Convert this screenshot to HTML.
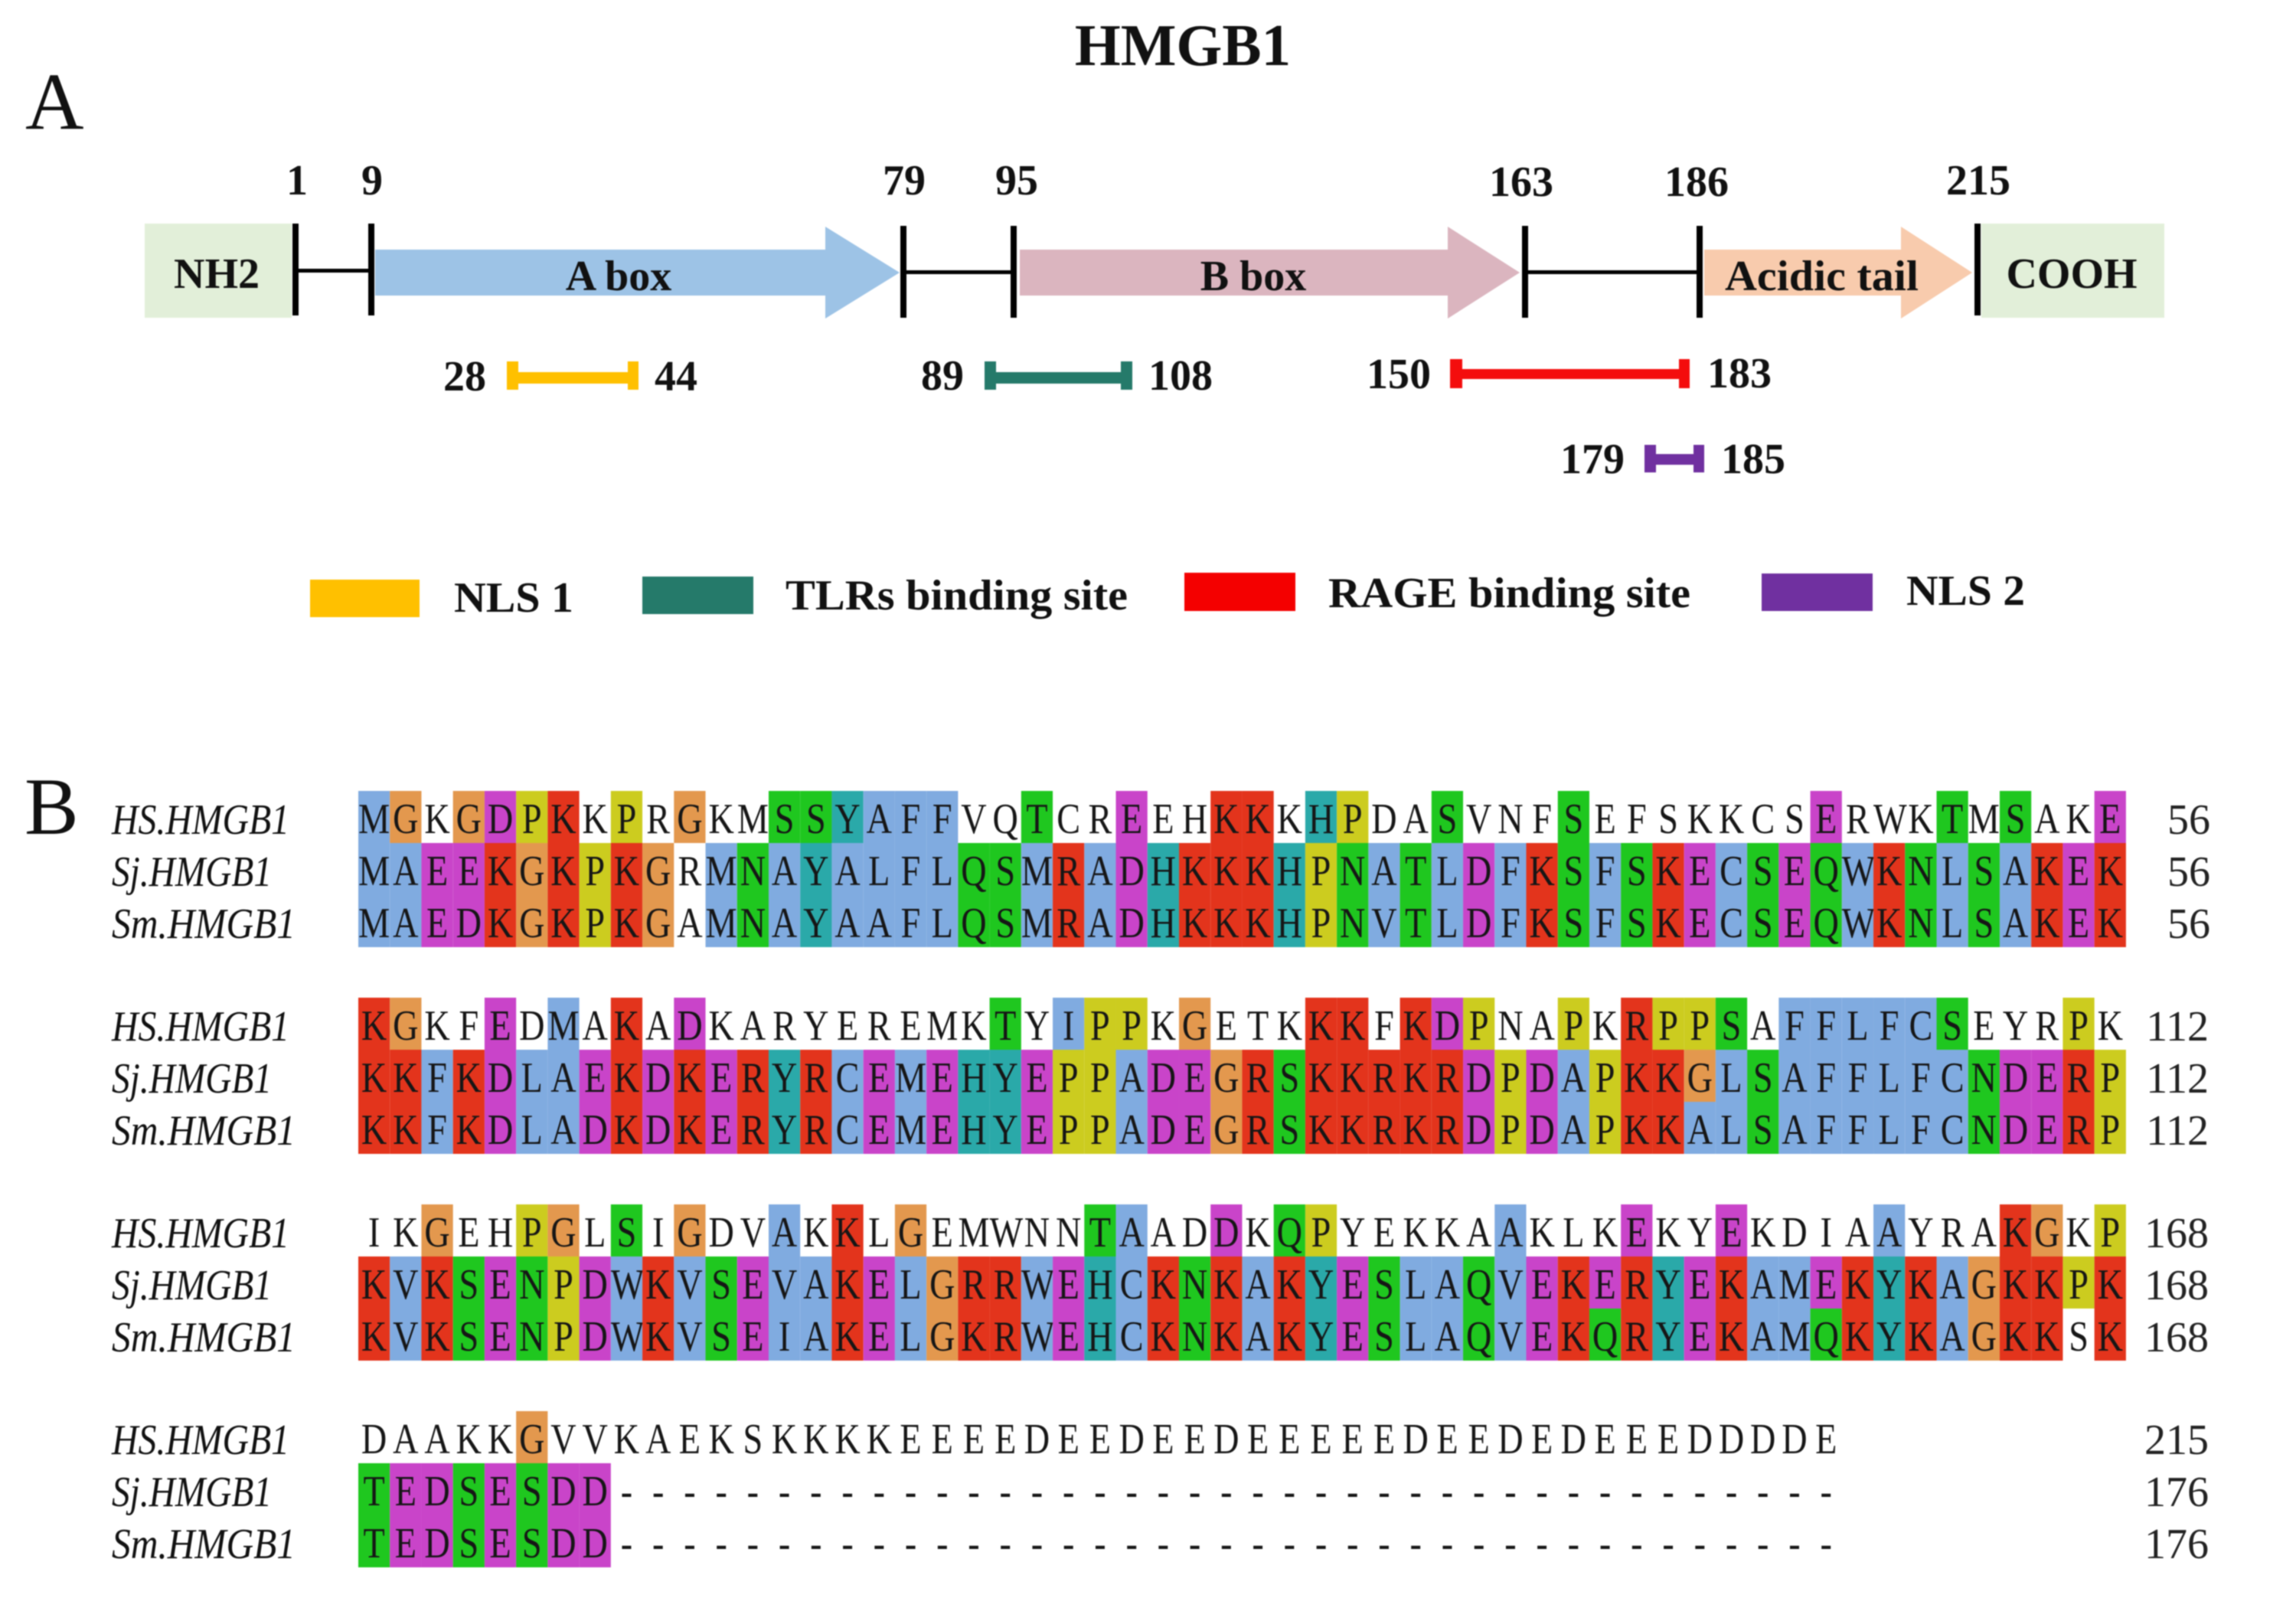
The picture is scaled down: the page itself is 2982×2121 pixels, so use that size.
<!DOCTYPE html>
<html><head><meta charset="utf-8"><title>HMGB1</title>
<style>
html,body{margin:0;padding:0;background:#fff}
#p{position:relative;width:2982px;height:2121px;overflow:hidden;background:#fff;filter:blur(.7px)}
svg{position:absolute;left:0;top:0}
svg text{font-family:"Liberation Serif",serif;fill:#111}
.n{font-size:56px;font-weight:bold}
.l{font-size:56px;font-style:italic}
.c{font-size:56px;fill:#222}
.row{position:absolute;left:468px;display:flex;transform:scaleX(.8246);transform-origin:0 0;font:56px/74px "Liberation Serif",serif;color:#161616}
.row i{display:block;flex:none;width:50px;height:68px;text-align:center;font-style:normal}
.row i.b{background:#80abe0}
.row i.r{background:#e3341c}
.row i.m{background:#c944c9}
.row i.g{background:#1fc71f}
.row i.o{background:#e3984e}
.row i.y{background:#cccc1f}
.row i.t{background:#2aa9a9}
</style></head><body><div id="p">

<div class="row" style="top:1033px"><i class=b>M</i><i class=o>G</i><i>K</i><i class=o>G</i><i class=m>D</i><i class=y>P</i><i class=r>K</i><i>K</i><i class=y>P</i><i>R</i><i class=o>G</i><i>K</i><i>M</i><i class=g>S</i><i class=g>S</i><i class=t>Y</i><i class=b>A</i><i class=b>F</i><i class=b>F</i><i>V</i><i>Q</i><i class=g>T</i><i>C</i><i>R</i><i class=m>E</i><i>E</i><i>H</i><i class=r>K</i><i class=r>K</i><i>K</i><i class=t>H</i><i class=y>P</i><i>D</i><i>A</i><i class=g>S</i><i>V</i><i>N</i><i>F</i><i class=g>S</i><i>E</i><i>F</i><i>S</i><i>K</i><i>K</i><i>C</i><i>S</i><i class=m>E</i><i>R</i><i>W</i><i>K</i><i class=g>T</i><i>M</i><i class=g>S</i><i>A</i><i>K</i><i class=m>E</i></div>
<div class="row" style="top:1101px"><i class=b>M</i><i class=b>A</i><i class=m>E</i><i class=m>E</i><i class=r>K</i><i class=o>G</i><i class=r>K</i><i class=y>P</i><i class=r>K</i><i class=o>G</i><i>R</i><i class=b>M</i><i class=g>N</i><i class=b>A</i><i class=t>Y</i><i class=b>A</i><i class=b>L</i><i class=b>F</i><i class=b>L</i><i class=g>Q</i><i class=g>S</i><i class=b>M</i><i class=r>R</i><i class=b>A</i><i class=m>D</i><i class=t>H</i><i class=r>K</i><i class=r>K</i><i class=r>K</i><i class=t>H</i><i class=y>P</i><i class=g>N</i><i class=b>A</i><i class=g>T</i><i class=b>L</i><i class=m>D</i><i class=b>F</i><i class=r>K</i><i class=g>S</i><i class=b>F</i><i class=g>S</i><i class=r>K</i><i class=m>E</i><i class=b>C</i><i class=g>S</i><i class=m>E</i><i class=g>Q</i><i class=b>W</i><i class=r>K</i><i class=g>N</i><i class=b>L</i><i class=g>S</i><i class=b>A</i><i class=r>K</i><i class=m>E</i><i class=r>K</i></div>
<div class="row" style="top:1169px"><i class=b>M</i><i class=b>A</i><i class=m>E</i><i class=m>D</i><i class=r>K</i><i class=o>G</i><i class=r>K</i><i class=y>P</i><i class=r>K</i><i class=o>G</i><i>A</i><i class=b>M</i><i class=g>N</i><i class=b>A</i><i class=t>Y</i><i class=b>A</i><i class=b>A</i><i class=b>F</i><i class=b>L</i><i class=g>Q</i><i class=g>S</i><i class=b>M</i><i class=r>R</i><i class=b>A</i><i class=m>D</i><i class=t>H</i><i class=r>K</i><i class=r>K</i><i class=r>K</i><i class=t>H</i><i class=y>P</i><i class=g>N</i><i class=b>V</i><i class=g>T</i><i class=b>L</i><i class=m>D</i><i class=b>F</i><i class=r>K</i><i class=g>S</i><i class=b>F</i><i class=g>S</i><i class=r>K</i><i class=m>E</i><i class=b>C</i><i class=g>S</i><i class=m>E</i><i class=g>Q</i><i class=b>W</i><i class=r>K</i><i class=g>N</i><i class=b>L</i><i class=g>S</i><i class=b>A</i><i class=r>K</i><i class=m>E</i><i class=r>K</i></div>

<div class="row" style="top:1303px"><i class=r>K</i><i class=o>G</i><i>K</i><i>F</i><i class=m>E</i><i>D</i><i class=b>M</i><i>A</i><i class=r>K</i><i>A</i><i class=m>D</i><i>K</i><i>A</i><i>R</i><i>Y</i><i>E</i><i>R</i><i>E</i><i>M</i><i>K</i><i class=g>T</i><i>Y</i><i class=b>I</i><i class=y>P</i><i class=y>P</i><i>K</i><i class=o>G</i><i>E</i><i>T</i><i>K</i><i class=r>K</i><i class=r>K</i><i>F</i><i class=r>K</i><i class=m>D</i><i class=y>P</i><i>N</i><i>A</i><i class=y>P</i><i>K</i><i class=r>R</i><i class=y>P</i><i class=y>P</i><i class=g>S</i><i>A</i><i class=b>F</i><i class=b>F</i><i class=b>L</i><i class=b>F</i><i class=b>C</i><i class=g>S</i><i>E</i><i>Y</i><i>R</i><i class=y>P</i><i>K</i></div>
<div class="row" style="top:1371px"><i class=r>K</i><i class=r>K</i><i class=b>F</i><i class=r>K</i><i class=m>D</i><i class=b>L</i><i class=b>A</i><i class=m>E</i><i class=r>K</i><i class=m>D</i><i class=r>K</i><i class=m>E</i><i class=r>R</i><i class=t>Y</i><i class=r>R</i><i class=b>C</i><i class=m>E</i><i class=b>M</i><i class=m>E</i><i class=t>H</i><i class=t>Y</i><i class=m>E</i><i class=y>P</i><i class=y>P</i><i class=b>A</i><i class=m>D</i><i class=m>E</i><i class=o>G</i><i class=r>R</i><i class=g>S</i><i class=r>K</i><i class=r>K</i><i class=r>R</i><i class=r>K</i><i class=r>R</i><i class=m>D</i><i class=y>P</i><i class=m>D</i><i class=b>A</i><i class=y>P</i><i class=r>K</i><i class=r>K</i><i class=o>G</i><i class=b>L</i><i class=g>S</i><i class=b>A</i><i class=b>F</i><i class=b>F</i><i class=b>L</i><i class=b>F</i><i class=b>C</i><i class=g>N</i><i class=m>D</i><i class=m>E</i><i class=r>R</i><i class=y>P</i></div>
<div class="row" style="top:1439px"><i class=r>K</i><i class=r>K</i><i class=b>F</i><i class=r>K</i><i class=m>D</i><i class=b>L</i><i class=b>A</i><i class=m>D</i><i class=r>K</i><i class=m>D</i><i class=r>K</i><i class=m>E</i><i class=r>R</i><i class=t>Y</i><i class=r>R</i><i class=b>C</i><i class=m>E</i><i class=b>M</i><i class=m>E</i><i class=t>H</i><i class=t>Y</i><i class=m>E</i><i class=y>P</i><i class=y>P</i><i class=b>A</i><i class=m>D</i><i class=m>E</i><i class=o>G</i><i class=r>R</i><i class=g>S</i><i class=r>K</i><i class=r>K</i><i class=r>R</i><i class=r>K</i><i class=r>R</i><i class=m>D</i><i class=y>P</i><i class=m>D</i><i class=b>A</i><i class=y>P</i><i class=r>K</i><i class=r>K</i><i class=b>A</i><i class=b>L</i><i class=g>S</i><i class=b>A</i><i class=b>F</i><i class=b>F</i><i class=b>L</i><i class=b>F</i><i class=b>C</i><i class=g>N</i><i class=m>D</i><i class=m>E</i><i class=r>R</i><i class=y>P</i></div>

<div class="row" style="top:1573px"><i>I</i><i>K</i><i class=o>G</i><i>E</i><i>H</i><i class=y>P</i><i class=o>G</i><i>L</i><i class=g>S</i><i>I</i><i class=o>G</i><i>D</i><i>V</i><i class=b>A</i><i>K</i><i class=r>K</i><i>L</i><i class=o>G</i><i>E</i><i>M</i><i>W</i><i>N</i><i>N</i><i class=g>T</i><i class=b>A</i><i>A</i><i>D</i><i class=m>D</i><i>K</i><i class=g>Q</i><i class=y>P</i><i>Y</i><i>E</i><i>K</i><i>K</i><i>A</i><i class=b>A</i><i>K</i><i>L</i><i>K</i><i class=m>E</i><i>K</i><i>Y</i><i class=m>E</i><i>K</i><i>D</i><i>I</i><i>A</i><i class=b>A</i><i>Y</i><i>R</i><i>A</i><i class=r>K</i><i class=o>G</i><i>K</i><i class=y>P</i></div>
<div class="row" style="top:1641px"><i class=r>K</i><i class=b>V</i><i class=r>K</i><i class=g>S</i><i class=m>E</i><i class=g>N</i><i class=y>P</i><i class=m>D</i><i class=b>W</i><i class=r>K</i><i class=b>V</i><i class=g>S</i><i class=m>E</i><i class=b>V</i><i class=b>A</i><i class=r>K</i><i class=m>E</i><i class=b>L</i><i class=o>G</i><i class=r>R</i><i class=r>R</i><i class=b>W</i><i class=m>E</i><i class=t>H</i><i class=b>C</i><i class=r>K</i><i class=g>N</i><i class=r>K</i><i class=b>A</i><i class=r>K</i><i class=t>Y</i><i class=m>E</i><i class=g>S</i><i class=b>L</i><i class=b>A</i><i class=g>Q</i><i class=b>V</i><i class=m>E</i><i class=r>K</i><i class=m>E</i><i class=r>R</i><i class=t>Y</i><i class=m>E</i><i class=r>K</i><i class=b>A</i><i class=b>M</i><i class=m>E</i><i class=r>K</i><i class=t>Y</i><i class=r>K</i><i class=b>A</i><i class=o>G</i><i class=r>K</i><i class=r>K</i><i class=y>P</i><i class=r>K</i></div>
<div class="row" style="top:1709px"><i class=r>K</i><i class=b>V</i><i class=r>K</i><i class=g>S</i><i class=m>E</i><i class=g>N</i><i class=y>P</i><i class=m>D</i><i class=b>W</i><i class=r>K</i><i class=b>V</i><i class=g>S</i><i class=m>E</i><i class=b>I</i><i class=b>A</i><i class=r>K</i><i class=m>E</i><i class=b>L</i><i class=o>G</i><i class=r>K</i><i class=r>R</i><i class=b>W</i><i class=m>E</i><i class=t>H</i><i class=b>C</i><i class=r>K</i><i class=g>N</i><i class=r>K</i><i class=b>A</i><i class=r>K</i><i class=t>Y</i><i class=m>E</i><i class=g>S</i><i class=b>L</i><i class=b>A</i><i class=g>Q</i><i class=b>V</i><i class=m>E</i><i class=r>K</i><i class=g>Q</i><i class=r>R</i><i class=t>Y</i><i class=m>E</i><i class=r>K</i><i class=b>A</i><i class=b>M</i><i class=g>Q</i><i class=r>K</i><i class=t>Y</i><i class=r>K</i><i class=b>A</i><i class=o>G</i><i class=r>K</i><i class=r>K</i><i>S</i><i class=r>K</i></div>

<div class="row" style="top:1843px"><i>D</i><i>A</i><i>A</i><i>K</i><i>K</i><i class=o>G</i><i>V</i><i>V</i><i>K</i><i>A</i><i>E</i><i>K</i><i>S</i><i>K</i><i>K</i><i>K</i><i>K</i><i>E</i><i>E</i><i>E</i><i>E</i><i>D</i><i>E</i><i>E</i><i>D</i><i>E</i><i>E</i><i>D</i><i>E</i><i>E</i><i>E</i><i>E</i><i>E</i><i>D</i><i>E</i><i>E</i><i>D</i><i>E</i><i>D</i><i>E</i><i>E</i><i>E</i><i>D</i><i>D</i><i>D</i><i>D</i><i>E</i></div>
<div class="row" style="top:1911px"><i class=g>T</i><i class=m>E</i><i class=m>D</i><i class=g>S</i><i class=m>E</i><i class=g>S</i><i class=m>D</i><i class=m>D</i><i>-</i><i>-</i><i>-</i><i>-</i><i>-</i><i>-</i><i>-</i><i>-</i><i>-</i><i>-</i><i>-</i><i>-</i><i>-</i><i>-</i><i>-</i><i>-</i><i>-</i><i>-</i><i>-</i><i>-</i><i>-</i><i>-</i><i>-</i><i>-</i><i>-</i><i>-</i><i>-</i><i>-</i><i>-</i><i>-</i><i>-</i><i>-</i><i>-</i><i>-</i><i>-</i><i>-</i><i>-</i><i>-</i><i>-</i></div>
<div class="row" style="top:1979px"><i class=g>T</i><i class=m>E</i><i class=m>D</i><i class=g>S</i><i class=m>E</i><i class=g>S</i><i class=m>D</i><i class=m>D</i><i>-</i><i>-</i><i>-</i><i>-</i><i>-</i><i>-</i><i>-</i><i>-</i><i>-</i><i>-</i><i>-</i><i>-</i><i>-</i><i>-</i><i>-</i><i>-</i><i>-</i><i>-</i><i>-</i><i>-</i><i>-</i><i>-</i><i>-</i><i>-</i><i>-</i><i>-</i><i>-</i><i>-</i><i>-</i><i>-</i><i>-</i><i>-</i><i>-</i><i>-</i><i>-</i><i>-</i><i>-</i><i>-</i><i>-</i></div>

<svg width="2982" height="2121" viewBox="0 0 2982 2121">
<text x="33" y="168" font-size="106">A</text>
<text x="32" y="1089" font-size="106">B</text>

<g transform="translate(0,-2)">
<!-- title -->
<text x="1545" y="87" text-anchor="middle" font-size="77" font-weight="bold">HMGB1</text>

<!-- terminal boxes -->
<rect x="189" y="294" width="192" height="123" fill="#e2efd9"/>
<rect x="2588" y="294" width="239" height="123" fill="#e2efd9"/>

<!-- arrows -->
<polygon points="490,328 1078,328 1078,298 1175,358 1078,418 1078,388 490,388" fill="#9dc3e6"/>
<polygon points="1332,328 1891,328 1891,298 1985,358 1891,418 1891,388 1332,388" fill="#dbb5bf"/>
<polygon points="2226,328 2483,328 2483,298 2576,358 2483,418 2483,388 2226,388" fill="#f8cbad"/>

<!-- connectors and ticks -->
<g fill="#000">
<rect x="386" y="353" width="99" height="5"/>
<rect x="1180" y="355" width="144" height="5"/>
<rect x="1992" y="355" width="228" height="5"/>
<rect x="382" y="294" width="8" height="120"/>
<rect x="481" y="294" width="8" height="120"/>
<rect x="1176" y="297" width="8" height="120"/>
<rect x="1320" y="297" width="8" height="120"/>
<rect x="1988" y="297" width="8" height="120"/>
<rect x="2216" y="297" width="8" height="120"/>
<rect x="2579" y="294" width="8" height="120"/>
</g>

<!-- position labels -->
<g text-anchor="middle">
<text class="n" x="388" y="256">1</text>
<text class="n" x="486" y="256">9</text>
<text class="n" x="1181" y="256">79</text>
<text class="n" x="1328" y="256">95</text>
<text class="n" x="1987" y="258">163</text>
<text class="n" x="2216" y="258">186</text>
<text class="n" x="2584" y="256">215</text>
<text class="n" x="283" y="378">NH2</text>
<text class="n" x="808" y="381">A box</text>
<text class="n" x="1637" y="381">B box</text>
<text class="n" x="2706" y="378">COOH</text>
</g>
<text class="n" x="2253" y="381" textLength="253" lengthAdjust="spacingAndGlyphs">Acidic tail</text>

<!-- range bars -->
<g fill="#ffc000"><rect x="662" y="474" width="15" height="37"/><rect x="820" y="474" width="14" height="37"/><rect x="670" y="488" width="156" height="15"/></g>
<g fill="#257a6a"><rect x="1286" y="474" width="15" height="37"/><rect x="1464" y="474" width="15" height="37"/><rect x="1294" y="488" width="176" height="15"/></g>
<g fill="#f40d0d"><rect x="1894" y="471" width="16" height="38"/><rect x="2193" y="471" width="14" height="38"/><rect x="1902" y="484" width="298" height="13"/></g>
<g fill="#7030a0"><rect x="2148" y="583" width="15" height="36"/><rect x="2212" y="583" width="14" height="36"/><rect x="2155" y="595" width="64" height="14"/></g>

<text class="n" x="579" y="512">28</text>
<text class="n" x="855" y="512">44</text>
<text class="n" x="1203" y="511">89</text>
<text class="n" x="1500" y="511">108</text>
<text class="n" x="1785" y="509">150</text>
<text class="n" x="2230" y="508">183</text>
<text class="n" x="2038" y="620">179</text>
<text class="n" x="2248" y="620">185</text>

<!-- legend -->
<rect x="405" y="759" width="143" height="49" fill="#ffc000"/>
<rect x="839" y="755" width="145" height="49" fill="#257a6a"/>
<rect x="1547" y="750" width="145" height="50" fill="#f40000"/>
<rect x="2301" y="751" width="145" height="49" fill="#7030a0"/>
<text class="n" x="593" y="801" textLength="156" lengthAdjust="spacingAndGlyphs">NLS 1</text>
<text class="n" x="1026" y="798" textLength="447" lengthAdjust="spacingAndGlyphs">TLRs binding site</text>
<text class="n" x="1735" y="795" textLength="473" lengthAdjust="spacingAndGlyphs">RAGE binding site</text>
<text class="n" x="2490" y="792" textLength="155" lengthAdjust="spacingAndGlyphs">NLS 2</text>
</g>

<!-- species labels -->
<text class="l" x="146" y="1089" textLength="232" lengthAdjust="spacingAndGlyphs">HS.HMGB1</text>
<text class="l" x="146" y="1157" textLength="209" lengthAdjust="spacingAndGlyphs">Sj.HMGB1</text>
<text class="l" x="146" y="1225" textLength="240" lengthAdjust="spacingAndGlyphs">Sm.HMGB1</text>
<text class="l" x="146" y="1359" textLength="232" lengthAdjust="spacingAndGlyphs">HS.HMGB1</text>
<text class="l" x="146" y="1427" textLength="209" lengthAdjust="spacingAndGlyphs">Sj.HMGB1</text>
<text class="l" x="146" y="1495" textLength="240" lengthAdjust="spacingAndGlyphs">Sm.HMGB1</text>
<text class="l" x="146" y="1629" textLength="232" lengthAdjust="spacingAndGlyphs">HS.HMGB1</text>
<text class="l" x="146" y="1697" textLength="209" lengthAdjust="spacingAndGlyphs">Sj.HMGB1</text>
<text class="l" x="146" y="1765" textLength="240" lengthAdjust="spacingAndGlyphs">Sm.HMGB1</text>
<text class="l" x="146" y="1899" textLength="232" lengthAdjust="spacingAndGlyphs">HS.HMGB1</text>
<text class="l" x="146" y="1967" textLength="209" lengthAdjust="spacingAndGlyphs">Sj.HMGB1</text>
<text class="l" x="146" y="2035" textLength="240" lengthAdjust="spacingAndGlyphs">Sm.HMGB1</text>

<!-- residue counts -->
<g text-anchor="end">
<text class="c" x="2887" y="1089">56</text><text class="c" x="2887" y="1157">56</text><text class="c" x="2887" y="1225">56</text>
<text class="c" x="2885" y="1359">112</text><text class="c" x="2885" y="1427">112</text><text class="c" x="2885" y="1495">112</text>
<text class="c" x="2885" y="1629">168</text><text class="c" x="2885" y="1697">168</text><text class="c" x="2885" y="1765">168</text>
<text class="c" x="2885" y="1899">215</text><text class="c" x="2885" y="1967">176</text><text class="c" x="2885" y="2035">176</text>
</g>
</svg>
</div></body></html>
